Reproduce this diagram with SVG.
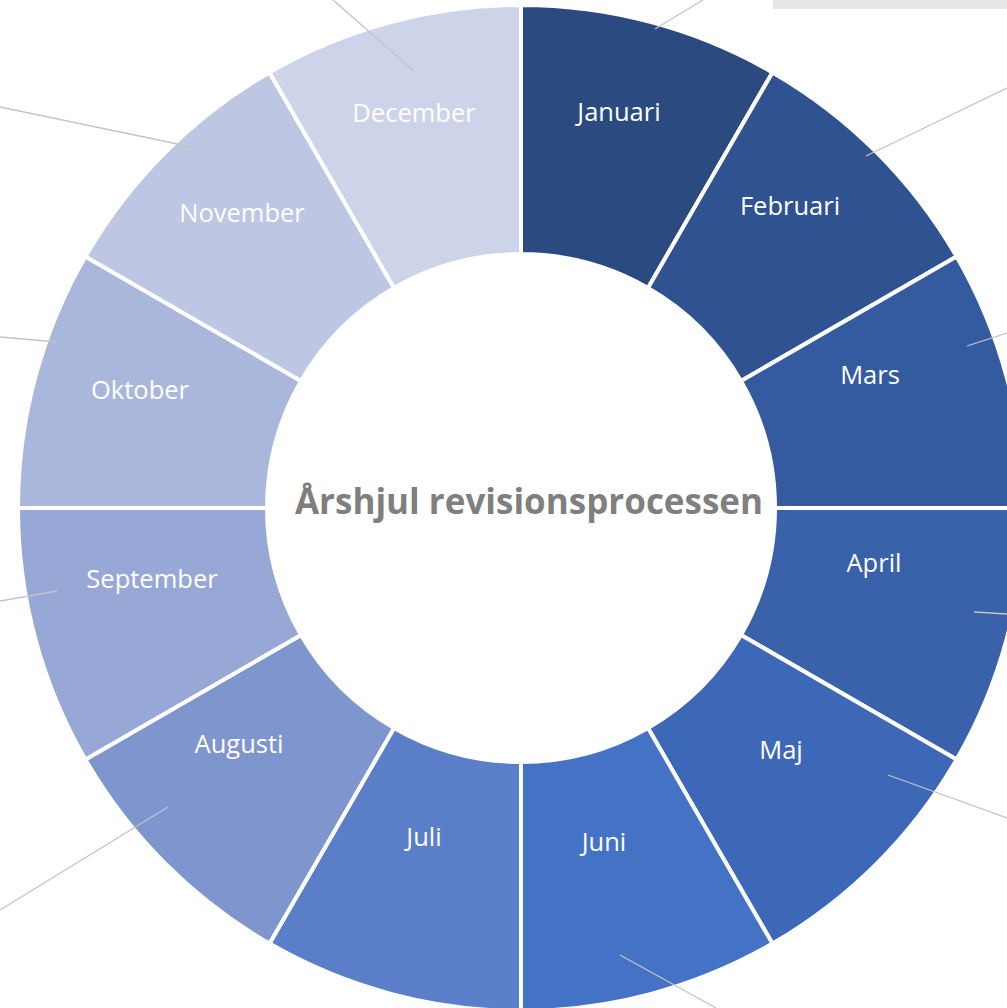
<svg xmlns="http://www.w3.org/2000/svg" width="1007" height="1008" viewBox="0 0 1007 1008">
<style>
.seg{stroke:#FFFFFF;stroke-width:4;stroke-linejoin:miter}
.lbl{font-family:"Open Sans","Noto Sans","Liberation Sans",sans-serif;font-size:25.5px;fill:#FFFFFF;text-anchor:middle}
.lead{stroke:#C4C4C4;stroke-width:1.3;fill:none}
.title{font-family:"Open Sans","Noto Sans","Liberation Sans",sans-serif;font-size:35px;font-weight:bold;fill:#7F7F7F;text-anchor:middle}
</style>
<rect x="0" y="0" width="1007" height="1008" fill="#FFFFFF"/>
<rect x="773" y="0" width="234" height="9" fill="#E6E6E6"/>
<g id="januari"><path class="seg" fill="#2B4A80" d="M521,5 A503,503 0 0 1 772.5,72.4 L648,288 A254,254 0 0 0 521,254 Z"/><text class="lbl" x="619" y="121">Januari</text></g>
<g id="februari"><path class="seg" fill="#2F5291" d="M772.5,72.4 A503,503 0 0 1 956.6,256.5 L741,381 A254,254 0 0 0 648,288 Z"/><text class="lbl" x="790" y="215">Februari</text></g>
<g id="mars"><path class="seg" fill="#345A9F" d="M956.6,256.5 A503,503 0 0 1 1024,508 L775,508 A254,254 0 0 0 741,381 Z"/><text class="lbl" x="870" y="384">Mars</text></g>
<g id="april"><path class="seg" fill="#3962AB" d="M1024,508 A503,503 0 0 1 956.6,759.5 L741,635 A254,254 0 0 0 775,508 Z"/><text class="lbl" x="874" y="572">April</text></g>
<g id="maj"><path class="seg" fill="#3D68B7" d="M956.6,759.5 A503,503 0 0 1 772.5,943.6 L648,728 A254,254 0 0 0 741,635 Z"/><text class="lbl" x="781" y="759">Maj</text></g>
<g id="juni"><path class="seg" fill="#4472C4" d="M772.5,943.6 A503,503 0 0 1 521,1011 L521,762 A254,254 0 0 0 648,728 Z"/><text class="lbl" x="604" y="851">Juni</text></g>
<g id="juli"><path class="seg" fill="#5B7EC9" d="M521,1011 A503,503 0 0 1 269.5,943.6 L394,728 A254,254 0 0 0 521,762 Z"/><text class="lbl" x="424" y="846">Juli</text></g>
<g id="augusti"><path class="seg" fill="#7F95CE" d="M269.5,943.6 A503,503 0 0 1 85.4,759.5 L301,635 A254,254 0 0 0 394,728 Z"/><text class="lbl" x="239" y="753">Augusti</text></g>
<g id="september"><path class="seg" fill="#97A8D6" d="M85.4,759.5 A503,503 0 0 1 18,508 L267,508 A254,254 0 0 0 301,635 Z"/><text class="lbl" x="152" y="588">September</text></g>
<g id="oktober"><path class="seg" fill="#AAB7DD" d="M18,508 A503,503 0 0 1 85.4,256.5 L301,381 A254,254 0 0 0 267,508 Z"/><text class="lbl" x="140" y="399">Oktober</text></g>
<g id="november"><path class="seg" fill="#BDC6E3" d="M85.4,256.5 A503,503 0 0 1 269.5,72.4 L394,288 A254,254 0 0 0 301,381 Z"/><text class="lbl" x="242" y="222">November</text></g>
<g id="december"><path class="seg" fill="#CDD4E9" d="M269.5,72.4 A503,503 0 0 1 521,5 L521,254 A254,254 0 0 0 394,288 Z"/><text class="lbl" x="414" y="122">December</text></g>
<g id="connectors">
<line class="lead" x1="655" y1="29" x2="703" y2="0"/>
<line class="lead" x1="866" y1="156" x2="1007" y2="88"/>
<line class="lead" x1="967" y1="346" x2="1007" y2="333"/>
<line class="lead" x1="974" y1="612" x2="1007" y2="614"/>
<line class="lead" x1="888" y1="775" x2="1007" y2="818"/>
<line class="lead" x1="620" y1="955" x2="716" y2="1008"/>
<line class="lead" x1="168" y1="807" x2="0" y2="910"/>
<line class="lead" x1="57" y1="591" x2="0" y2="601"/>
<line class="lead" x1="57" y1="342" x2="0" y2="337"/>
<line class="lead" x1="192" y1="147" x2="0" y2="107"/>
<line class="lead" x1="414" y1="71" x2="333" y2="0"/>
</g>
<g id="center"><text class="title" x="529" y="514">Årshjul revisionsprocessen</text></g>
</svg>
